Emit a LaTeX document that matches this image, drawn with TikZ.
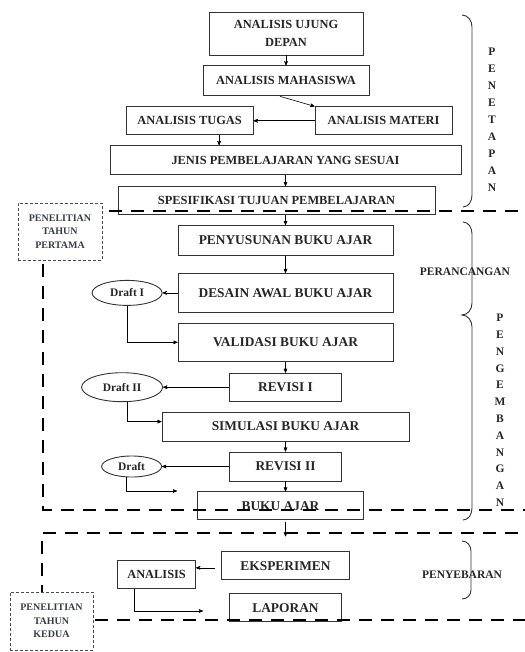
\documentclass[tikz,border=0pt]{standalone}
\usepackage{fontspec}
\setmainfont{Liberation Serif}
\usepackage{tikz}
\usetikzlibrary{arrows,shapes.geometric}
\usetikzlibrary{positioning}
\definecolor{labelgray}{RGB}{55,60,75}

\begin{document}
\begin{tikzpicture}[>=stealth',semithick,node distance=10pt,x=1pt,y=-1pt]
    % 设置样式
    \tikzstyle{box}=[draw=black!80,line width=0.9pt,fill=white,inner sep=0pt,align=center,text=black!85,font=\bfseries\fontsize{12.4}{18}\selectfont]
    \tikzstyle{bigbox}=[box,font=\bfseries\fontsize{13.4}{16}\selectfont]
    \tikzstyle{draft}=[ellipse,draw=black!80,line width=0.9pt,fill=white,inner sep=0pt,text=black!85,font=\bfseries\fontsize{11.5}{13}\selectfont]
    \tikzstyle{zone}=[line width=2.6pt,dash pattern=on 13pt off 9pt]
    \tikzstyle{yearbox}=[draw=black!70,thin,densely dashed,fill=white,inner sep=0pt,align=center,text=labelgray,font=\bfseries\fontsize{10}{13.5}\selectfont]
    \tikzstyle{phase}=[inner sep=0pt,text=black!85,font=\bfseries\fontsize{11.5}{13}\selectfont]
    \tikzstyle{bracket}=[line width=0.9pt,black!80]

    \useasboundingbox (0,0) rectangle (524,652);

    % 定义节点
    \node[box,minimum width=154pt,minimum height=43pt] (ujung) at (286,33.5) {ANALISIS UJUNG\\DEPAN};
    \node[box,minimum width=166pt,minimum height=30pt,below=of ujung] (mhs) {ANALISIS MAHASISWA};
    \node[box,minimum width=137pt,minimum height=28pt,below=of mhs,xshift=97.5pt] (materi) {ANALISIS MATERI};
    \node[box,minimum width=127pt,minimum height=28pt,left=61pt of materi] (tugas) {ANALISIS TUGAS};
    \node[box,minimum width=351pt,minimum height=29pt,below=of materi,xshift=-98pt] (jenis) {JENIS PEMBELAJARAN YANG SESUAI};
    \node[box,minimum width=317pt,minimum height=28pt,below=11pt of jenis,xshift=-9pt] (spes) {SPESIFIKASI TUJUAN PEMBELAJARAN};
    \node[bigbox,minimum width=215pt,minimum height=30pt,below=of spes,xshift=9pt] (susun) {PENYUSUNAN BUKU AJAR};
    \node[bigbox,minimum width=215pt,minimum height=39pt,below=17pt of susun] (desain) {DESAIN AWAL BUKU AJAR};
    \node[bigbox,minimum width=215pt,minimum height=38pt,below=of desain] (valid) {VALIDASI BUKU AJAR};
    \node[bigbox,minimum width=112pt,minimum height=28pt,below=11pt of valid] (rev1) {REVISI I};
    \node[bigbox,minimum width=247pt,minimum height=29pt,below=of rev1] (simul) {SIMULASI BUKU AJAR};
    \node[bigbox,minimum width=112pt,minimum height=29pt,below=of simul] (rev2) {REVISI II};
    \node[bigbox,minimum width=166pt,minimum height=28pt,below=of rev2,xshift=-5pt] (buku) {BUKU AJAR};
    \node[bigbox,minimum width=128pt,minimum height=28pt,below=31pt of buku,xshift=5pt] (eksp) {EKSPERIMEN};
    \node[bigbox,minimum width=112pt,minimum height=28pt,below=13pt of eksp] (lapor) {LAPORAN};
    \node[box,minimum width=78pt,minimum height=28pt,left=25pt of eksp,yshift=-9pt] (anal) {ANALISIS};

    \node[draft,minimum width=70pt,minimum height=25pt,left=15pt of desain] (d1) {Draft I};
    \node[draft,minimum width=81pt,minimum height=29pt,left=66pt of rev1] (d2) {Draft II};
    \node[draft,minimum width=60pt,minimum height=21pt,left=67pt of rev2] (d3) {Draft};

    \coordinate (d3end) at (177,491);
    \coordinate (lapend) at (203,611);

    % 定义路径
    \draw[->] (ujung) -- (mhs);
    \draw[->] ([xshift=-6pt]mhs.south) -- (materi.north west);
    \draw[->] (materi) -- (tugas);
    \draw[->] ([xshift=29.5pt]tugas.south) -- ([xshift=29.5pt]tugas.south |- jenis.north);
    \draw[->] (jenis.south) -- (jenis.south |- spes.north);
    \draw[->] (susun.north |- spes.south) -- (susun.north);
    \draw[->] (susun) -- (desain);
    \draw[->] (desain) -- (d1);
    \draw[->] (d1.south) |- (valid.west);
    \draw[->] (valid) -- (rev1);
    \draw[->] (rev1) -- (d2);
    \draw[->] ([xshift=5pt]d2.south) |- ([yshift=5pt]simul.west);
    \draw[->] (simul) -- (rev2);
    \draw[->] (rev2) -- (d3);
    \draw[->] ([xshift=-5pt]d3.south) |- (d3end);
    \draw[->] (rev2.south) -- (rev2.south |- buku.north);
    \draw[->] ([yshift=-2pt]buku.south -| eksp.north) -- ([yshift=-16pt]buku.south -| eksp.north);
    \draw[->] ([xshift=-6pt,yshift=-2pt]eksp.west) -- ([yshift=-2pt]eksp.west -| anal.east);
    \draw[->] ([xshift=-22pt]anal.south) |- (lapend);

    % 分区虚线
    \draw[zone] (540,211) -- (43,211) -- (43,510) -- (540,510);
    \draw[zone] (540,533) -- (42,533) -- (42,620) -- (540,620);

    \node[yearbox,minimum width=84pt,minimum height=57pt] (tahun1) at (60,231.5) {PENELITIAN\\TAHUN\\PERTAMA};
    \node[yearbox,minimum width=83pt,minimum height=58pt] (tahun2) at (51.5,621) {PENELITIAN\\TAHUN\\KEDUA};

    % 括号与阶段
    \draw[bracket] (462,15) to[out=0,in=90] (472,27) -- (472,195) to[out=-90,in=0] (463,207);
    \draw[bracket] (463,222) to[out=0,in=90] (472,234) -- (472,303) to[out=-90,in=0] (462,315)
        to[out=0,in=90] (472,327) -- (472,508) to[out=-90,in=0] (463,520);
    \draw[bracket] (462,541) to[out=0,in=90] (471,551) -- (471,590) to[out=-90,in=0] (462,599);

    \foreach \l [count=\i] in {P,E,N,E,T,A,P,A,N}
        \node[phase] (tetap\i) at (492,{35+17*\i}) {\l};
    \foreach \l [count=\i] in {P,E,N,G,E,M,B,A,N,G,A,N}
        \node[phase] (kembang\i) at (500,{301.2+16.8*\i}) {\l};
    \node[phase] (rancang) at (465,272) {PERANCANGAN};
    \node[phase] (sebar) at (462,575) {PENYEBARAN};
\end{tikzpicture}
\end{document}
